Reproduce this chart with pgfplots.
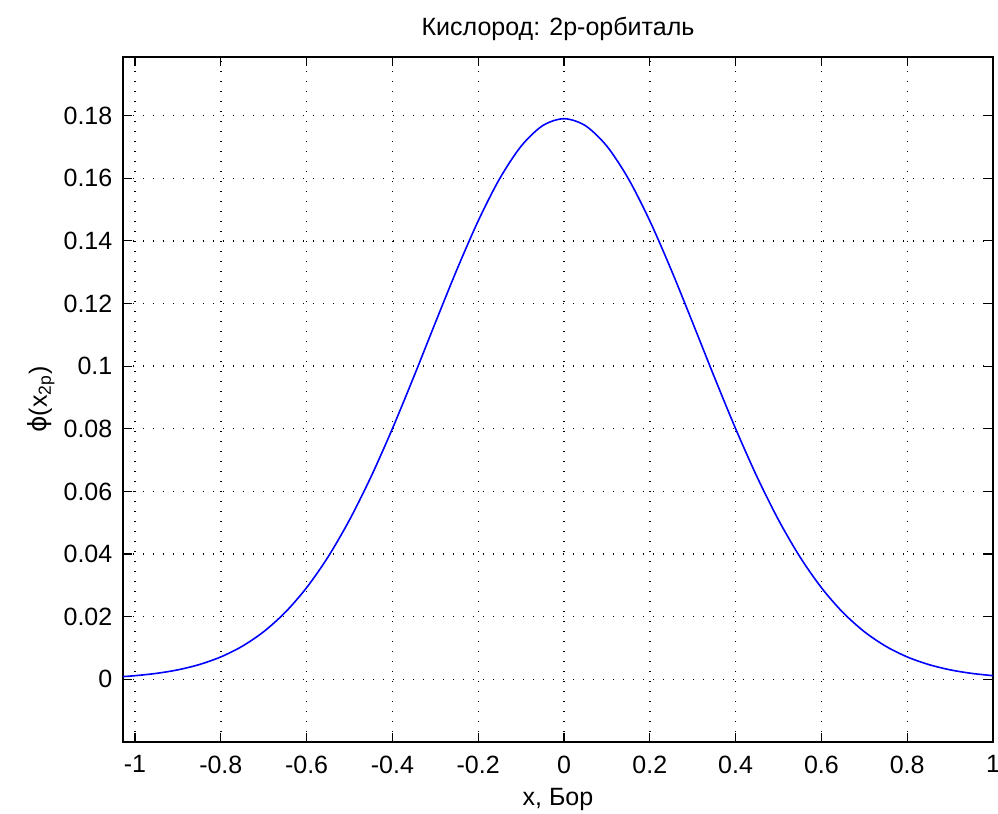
\documentclass[border=0pt]{standalone}
\usepackage{pgfplots}
\pgfplotsset{compat=1.18}
\usepackage{fontspec}
\setmainfont{Liberation Sans}
\newfontfamily\dejavu{DejaVu Sans}

\begin{document}
\fontsize{12.5}{15}\selectfont
\begin{tikzpicture}[x=0.5pt,y=0.5pt]
% frame of the picture: axis box is 870 x 685 px, 1 px = 0.5pt
\path[use as bounding box] (-123,-72) rectangle (875,742);
\begin{axis}[
    at={(0,0)}, anchor=south west,
    scale only axis,
    width=435pt, height=342.5pt,
    xmin=-1.028, xmax=1,
    ymin=-0.02, ymax=0.1987,
    xtick={-1,-0.8,-0.6,-0.4,-0.2,0,0.2,0.4,0.6,0.8,1},
    ytick={0,0.02,0.04,0.06,0.08,0.1,0.12,0.14,0.16,0.18},
    /pgf/number format/assume math mode=true,
    /pgf/number format/fixed,
    /pgf/number format/precision=2,
    tick align=inside,
    major tick length=4.5pt,
    tick style={black, line width=0.6pt},
    axis line style={line width=0.6pt},
    grid=major,
    grid style={black, line width=0.7pt, dash pattern=on 0.7pt off 4.3pt},
    xticklabel style={yshift=-2.5pt},
    yticklabel style={xshift=-1pt},
    title={Кислород: 2p-орбиталь},
    title style={yshift=-2pt},
    xlabel={x, Бор},
    xlabel style={yshift=1pt},
    ylabel={{\dejavu ϕ}(x\textsubscript{2p})},
    ylabel style={yshift=-4pt},
]
\addplot[color={rgb,255:red,0;green,0;blue,255}, line width=0.8pt, smooth] coordinates {
(-1.028,0.00088)
(-1.00,0.00117) (-0.95,0.00191) (-0.90,0.00304) (-0.85,0.00473)
(-0.80,0.00716) (-0.75,0.01057) (-0.70,0.01522) (-0.65,0.02137)
(-0.60,0.02927) (-0.55,0.03909) (-0.50,0.05090) (-0.45,0.06464)
(-0.40,0.08004) (-0.35,0.09666) (-0.30,0.11383) (-0.25,0.13071)
(-0.20,0.14638) (-0.15,0.15985) (-0.10,0.17022) (-0.05,0.17676)
(0.00,0.17900)
(0.05,0.17676) (0.10,0.17022) (0.15,0.15985) (0.20,0.14638)
(0.25,0.13071) (0.30,0.11383) (0.35,0.09666) (0.40,0.08004)
(0.45,0.06464) (0.50,0.05090) (0.55,0.03909) (0.60,0.02927)
(0.65,0.02137) (0.70,0.01522) (0.75,0.01057) (0.80,0.00716)
(0.85,0.00473) (0.90,0.00304) (0.95,0.00191) (1.00,0.00117)
};
\end{axis}
\end{tikzpicture}
\end{document}
